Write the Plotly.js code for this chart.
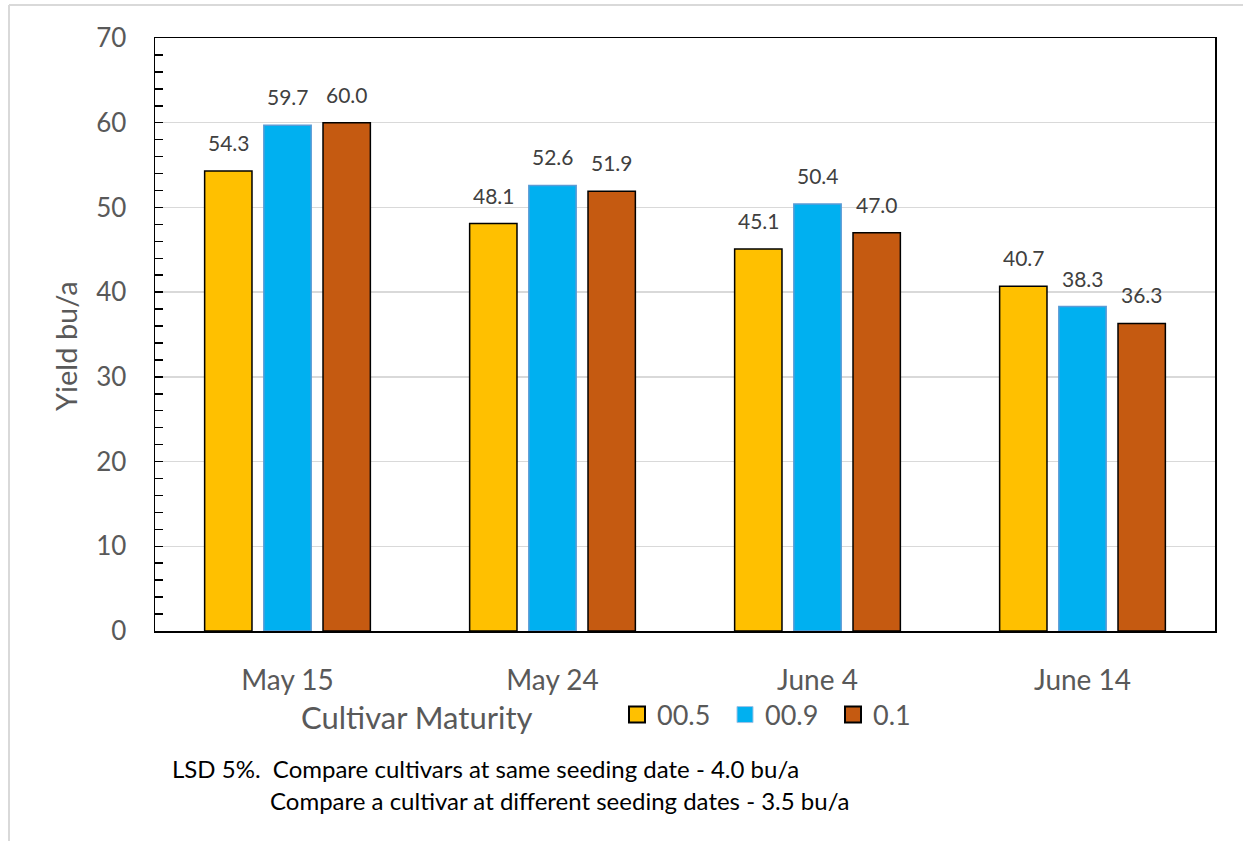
<!DOCTYPE html>
<html><head><meta charset="utf-8">
<script src="https://cdn.plot.ly/plotly-3.0.1.min.js"></script>
<style>html,body{margin:0;padding:0;background:#fff}#chart{width:1243px;height:841px}</style>
</head><body><div id="chart"></div>
<script>
const categories = ["May 15", "May 24", "June 4", "June 14"];
const seriesNames = ["00.5", "00.9", "0.1"];
const yield005 = [54.3, 48.1, 45.1, 40.7];
const yield009 = [59.7, 52.6, 50.4, 38.3];
const yield01  = [60.0, 51.9, 47.0, 36.3];
const yTicks = [0, 10, 20, 30, 40, 50, 60, 70];
const notes = ["LSD 5%.  Compare cultivars at same seeding date - 4.0 bu/a",
               "Compare a cultivar at different seeding dates - 3.5 bu/a"];

const seriesValues = [yield005, yield009, yield01];
const fills = ["#FFC000", "#00B0F0", "#C55A11"];
const outlines = ["#000000", "#5B9BD5", "#000000"];
const FONT = "Lato, 'Open Sans', sans-serif";
const px = v => (v - 155) / 1060;
const py = v => (631 - v) / 593;

const traces = seriesValues.map((vals, i) => ({
  type: "bar", name: seriesNames[i], x: categories, y: vals, showlegend: false,
  marker: {color: fills[i], line: {color: outlines[i], width: 1.5}},
  hoverinfo: "skip"
}));
// legend swatches
seriesNames.forEach((n, i) => {
  traces.push({type: "scatter", mode: "markers", name: n, x: [null], y: [null],
    marker: {symbol: "square", size: 16, color: fills[i],
      line: {color: i === 1 ? "#9DC3E6" : "#000000", width: i === 1 ? 1 : 2}},
    hoverinfo: "skip"});
});

const annotations = [];
seriesValues.forEach((vals, i) => {
  vals.forEach((v, j) => {
    annotations.push({x: categories[j], y: v, xref: "x", yref: "y", text: v.toFixed(1),
      showarrow: false, yanchor: "bottom", xshift: (i - 1) * 59, yshift: 14,
      font: {family: FONT, size: 21, color: "#404040"}});
  });
});
annotations.push({x: px(417), y: py(717), xref: "paper", yref: "paper",
  text: "Cultivar Maturity", showarrow: false, xanchor: "center", yanchor: "middle",
  font: {family: FONT, size: 31, color: "#595959"}});
annotations.push({x: px(65), y: py(346), xref: "paper", yref: "paper", textangle: -90,
  text: "Yield bu/a", showarrow: false, xanchor: "center", yanchor: "middle",
  font: {family: FONT, size: 29, color: "#595959"}});
annotations.push({x: px(170), y: py(768), xref: "paper", yref: "paper",
  text: notes[0], showarrow: false, xanchor: "left", yanchor: "middle",
  font: {family: FONT, size: 24, color: "#000000"}});
annotations.push({x: px(268), y: py(800), xref: "paper", yref: "paper",
  text: notes[1], showarrow: false, xanchor: "left", yanchor: "middle",
  font: {family: FONT, size: 24, color: "#000000"}});

const layout = {
  width: 1243, height: 841,
  margin: {l: 155, r: 28, t: 38, b: 210},
  paper_bgcolor: "#ffffff", plot_bgcolor: "#ffffff",
  barmode: "group", bargap: 0.33, bargroupgap: 0.2,
  showlegend: true,
  legend: {orientation: "h", x: px(617), y: py(715),
    xanchor: "left", yanchor: "middle", entrywidth: 63, entrywidthmode: "pixels",
    font: {family: FONT, size: 27, color: "#595959"}, traceorder: "normal", itemclick: false},
  xaxis: {showline: true, linecolor: "#000000", linewidth: 1.5, mirror: true,
    ticks: "", ticklabelstandoff: 24, tickfont: {family: FONT, size: 28, color: "#595959"},
    showgrid: false, fixedrange: true},
  yaxis: {range: [0, 70], tickvals: yTicks, showline: true, linecolor: "#000000", linewidth: 1.5,
    mirror: true, ticks: "inside", ticklen: 8, tickwidth: 1.5, tickcolor: "#000000",
    minor: {dtick: 2, ticks: "inside", ticklen: 8, tickwidth: 1.5, tickcolor: "#000000", showgrid: false},
    showgrid: true, gridcolor: "#D9D9D9", gridwidth: 1.5, zeroline: false,
    ticklabelstandoff: 22, tickfont: {family: FONT, size: 26, color: "#595959"},
    fixedrange: true},
  annotations: annotations,
  shapes: [
    {type: "line", xref: "paper", yref: "paper", x0: px(9), x1: px(1243),
      y0: py(5), y1: py(5), line: {color: "#D9D9D9", width: 2}},
    {type: "line", xref: "paper", yref: "paper", x0: px(9), x1: px(9),
      y0: py(5), y1: py(841), line: {color: "#D9D9D9", width: 2}}
  ]
};
Plotly.newPlot("chart", traces, layout, {displayModeBar: false, staticPlot: true});
</script></body></html>
